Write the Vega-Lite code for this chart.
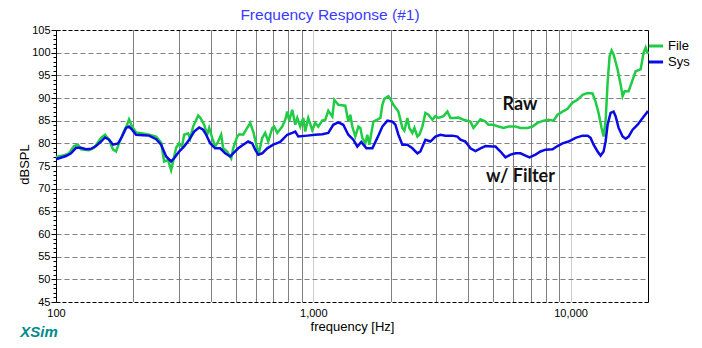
{
  "$schema": "https://vega.github.io/schema/vega-lite/v6.json",
  "width": 592,
  "height": 272,
  "autosize": "none",
  "padding": {"left": 56, "top": 30, "right": 54, "bottom": 46},
  "background": "white",
  "title": {"text": "Frequency Response (#1)", "font": "Liberation Sans", "fontSize": 15.5, "fontWeight": "normal", "color": "#3a3aff", "dx": -22, "dy": 6, "offset": 7},
  "config": {
    "view": {"stroke": null},
    "axis": {"labelFont": "Liberation Sans", "titleFont": "Liberation Sans", "labelColor": "#000", "titleColor": "#000", "titleFontWeight": "normal", "labelFontSize": 11, "titleFontSize": 13}
  },
  "datasets": {
    "curves": [
      {"f":100,"db":77.0,"s":"File"},{"f":106.5,"db":77.3,"s":"File"},{"f":112.4,"db":77.8,"s":"File"},{"f":117.5,"db":79.4,"s":"File"},{"f":121.8,"db":79.7,"s":"File"},{"f":125.1,"db":78.7,"s":"File"},{"f":134.4,"db":78.5,"s":"File"},{"f":140.5,"db":79.0,"s":"File"},{"f":149.6,"db":81.2,"s":"File"},{"f":155.1,"db":81.9,"s":"File"},{"f":160.8,"db":80.8,"s":"File"},{"f":166.6,"db":78.6,"s":"File"},{"f":171.2,"db":78.2,"s":"File"},{"f":175.8,"db":80.0,"s":"File"},{"f":182.3,"db":82.2,"s":"File"},{"f":188.9,"db":84.1,"s":"File"},{"f":192.3,"db":85.3,"s":"File"},{"f":197.6,"db":83.7,"s":"File"},{"f":204.8,"db":82.4,"s":"File"},{"f":218,"db":82.2,"s":"File"},{"f":230,"db":81.9,"s":"File"},{"f":245,"db":81.5,"s":"File"},{"f":256.2,"db":80.2,"s":"File"},{"f":263.2,"db":76.0,"s":"File"},{"f":272.8,"db":76.3,"s":"File"},{"f":280.2,"db":74.1,"s":"File"},{"f":285.3,"db":76.0,"s":"File"},{"f":293,"db":79.0,"s":"File"},{"f":301,"db":80.0,"s":"File"},{"f":309,"db":79.3,"s":"File"},{"f":314.8,"db":81.9,"s":"File"},{"f":326.3,"db":82.2,"s":"File"},{"f":332.2,"db":81.0,"s":"File"},{"f":341.2,"db":83.7,"s":"File"},{"f":356.9,"db":86.1,"s":"File"},{"f":363.3,"db":85.7,"s":"File"},{"f":376.6,"db":84.1,"s":"File"},{"f":386.9,"db":81.9,"s":"File"},{"f":393.9,"db":83.4,"s":"File"},{"f":404.6,"db":81.2,"s":"File"},{"f":415.6,"db":79.3,"s":"File"},{"f":426.9,"db":80.4,"s":"File"},{"f":438.6,"db":81.9,"s":"File"},{"f":446.5,"db":78.9,"s":"File"},{"f":462.8,"db":78.2,"s":"File"},{"f":479.7,"db":76.7,"s":"File"},{"f":488.4,"db":78.9,"s":"File"},{"f":506.2,"db":81.5,"s":"File"},{"f":515.3,"db":82.0,"s":"File"},{"f":534.1,"db":81.9,"s":"File"},{"f":553.6,"db":83.4,"s":"File"},{"f":568.7,"db":84.5,"s":"File"},{"f":584.2,"db":82.6,"s":"File"},{"f":605.5,"db":78.9,"s":"File"},{"f":616.5,"db":78.2,"s":"File"},{"f":633.2,"db":81.2,"s":"File"},{"f":650.5,"db":82.3,"s":"File"},{"f":668.2,"db":80.4,"s":"File"},{"f":692.6,"db":83.4,"s":"File"},{"f":705,"db":83.7,"s":"File"},{"f":724.3,"db":82.3,"s":"File"},{"f":757.5,"db":83.7,"s":"File"},{"f":778.1,"db":85.2,"s":"File"},{"f":792.2,"db":87.0,"s":"File"},{"f":806.5,"db":85.0,"s":"File"},{"f":828.5,"db":87.4,"s":"File"},{"f":851.1,"db":84.1,"s":"File"},{"f":866.5,"db":85.6,"s":"File"},{"f":890.1,"db":83.7,"s":"File"},{"f":914.5,"db":85.6,"s":"File"},{"f":930.8,"db":82.6,"s":"File"},{"f":955.9,"db":85.6,"s":"File"},{"f":991,"db":82.9,"s":"File"},{"f":1018,"db":84.5,"s":"File"},{"f":1046,"db":83.7,"s":"File"},{"f":1084,"db":85.0,"s":"File"},{"f":1114,"db":85.2,"s":"File"},{"f":1144,"db":87.2,"s":"File"},{"f":1186,"db":85.9,"s":"File"},{"f":1207,"db":89.6,"s":"File"},{"f":1251,"db":88.5,"s":"File"},{"f":1332,"db":88.3,"s":"File"},{"f":1368,"db":84.8,"s":"File"},{"f":1393,"db":86.3,"s":"File"},{"f":1418,"db":83.7,"s":"File"},{"f":1457,"db":81.5,"s":"File"},{"f":1497,"db":83.7,"s":"File"},{"f":1524,"db":83.4,"s":"File"},{"f":1551,"db":81.2,"s":"File"},{"f":1593,"db":80.0,"s":"File"},{"f":1622,"db":81.9,"s":"File"},{"f":1652,"db":79.7,"s":"File"},{"f":1682,"db":82.3,"s":"File"},{"f":1712,"db":84.8,"s":"File"},{"f":1774,"db":85.2,"s":"File"},{"f":1823,"db":85.6,"s":"File"},{"f":1856,"db":88.5,"s":"File"},{"f":1889,"db":89.8,"s":"File"},{"f":1958,"db":90.4,"s":"File"},{"f":1994,"db":89.8,"s":"File"},{"f":2048,"db":88.5,"s":"File"},{"f":2142,"db":87.0,"s":"File"},{"f":2220,"db":83.4,"s":"File"},{"f":2260,"db":82.8,"s":"File"},{"f":2321,"db":85.6,"s":"File"},{"f":2363,"db":83.4,"s":"File"},{"f":2428,"db":82.3,"s":"File"},{"f":2472,"db":83.4,"s":"File"},{"f":2539,"db":81.5,"s":"File"},{"f":2585,"db":81.9,"s":"File"},{"f":2655,"db":83.7,"s":"File"},{"f":2728,"db":86.7,"s":"File"},{"f":2802,"db":86.3,"s":"File"},{"f":2905,"db":85.2,"s":"File"},{"f":2984,"db":86.0,"s":"File"},{"f":3065,"db":85.6,"s":"File"},{"f":3205,"db":86.0,"s":"File"},{"f":3322,"db":87.0,"s":"File"},{"f":3412,"db":85.6,"s":"File"},{"f":3505,"db":85.6,"s":"File"},{"f":3666,"db":85.7,"s":"File"},{"f":3834,"db":85.2,"s":"File"},{"f":4082,"db":84.8,"s":"File"},{"f":4193,"db":83.4,"s":"File"},{"f":4346,"db":84.5,"s":"File"},{"f":4465,"db":85.3,"s":"File"},{"f":4669,"db":84.8,"s":"File"},{"f":4797,"db":84.1,"s":"File"},{"f":5016,"db":84.1,"s":"File"},{"f":5247,"db":83.7,"s":"File"},{"f":5487,"db":83.4,"s":"File"},{"f":5738,"db":83.7,"s":"File"},{"f":6110,"db":83.7,"s":"File"},{"f":6390,"db":83.4,"s":"File"},{"f":6803,"db":83.4,"s":"File"},{"f":7114,"db":83.7,"s":"File"},{"f":7440,"db":84.5,"s":"File"},{"f":7852,"db":85.0,"s":"File"},{"f":8211,"db":85.2,"s":"File"},{"f":8588,"db":85.0,"s":"File"},{"f":8900,"db":86.3,"s":"File"},{"f":9308,"db":87.0,"s":"File"},{"f":9735,"db":87.6,"s":"File"},{"f":10181,"db":89.0,"s":"File"},{"f":10648,"db":89.6,"s":"File"},{"f":11135,"db":90.7,"s":"File"},{"f":11647,"db":91.1,"s":"File"},{"f":12179,"db":91.0,"s":"File"},{"f":12509,"db":89.2,"s":"File"},{"f":12850,"db":86.7,"s":"File"},{"f":13200,"db":83.4,"s":"File"},{"f":13439,"db":81.5,"s":"File"},{"f":13682,"db":84.8,"s":"File"},{"f":13930,"db":93.3,"s":"File"},{"f":14182,"db":99.2,"s":"File"},{"f":14438,"db":100.5,"s":"File"},{"f":14699,"db":99.6,"s":"File"},{"f":15236,"db":96.3,"s":"File"},{"f":15651,"db":93.0,"s":"File"},{"f":15934,"db":90.4,"s":"File"},{"f":16223,"db":91.5,"s":"File"},{"f":16814,"db":91.5,"s":"File"},{"f":17427,"db":94.0,"s":"File"},{"f":17903,"db":95.9,"s":"File"},{"f":18723,"db":96.3,"s":"File"},{"f":19233,"db":100.0,"s":"File"},{"f":19583,"db":101.1,"s":"File"},{"f":19937,"db":99.8,"s":"File"},{"f":20000,"db":100.3,"s":"File"},
      {"f":100,"db":76.5,"s":"Sys"},{"f":109.4,"db":77.2,"s":"Sys"},{"f":114.4,"db":77.8,"s":"Sys"},{"f":119.6,"db":79.0,"s":"Sys"},{"f":125.1,"db":79.0,"s":"Sys"},{"f":130.8,"db":78.7,"s":"Sys"},{"f":136.8,"db":78.8,"s":"Sys"},{"f":143.1,"db":79.4,"s":"Sys"},{"f":149.6,"db":80.4,"s":"Sys"},{"f":155.1,"db":81.3,"s":"Sys"},{"f":160.8,"db":80.8,"s":"Sys"},{"f":166.6,"db":79.7,"s":"Sys"},{"f":174.3,"db":80.0,"s":"Sys"},{"f":180.6,"db":81.5,"s":"Sys"},{"f":187.2,"db":83.4,"s":"Sys"},{"f":192.3,"db":83.7,"s":"Sys"},{"f":197.6,"db":83.0,"s":"Sys"},{"f":204.8,"db":81.9,"s":"Sys"},{"f":218,"db":81.8,"s":"Sys"},{"f":230,"db":81.7,"s":"Sys"},{"f":245,"db":80.9,"s":"Sys"},{"f":256.2,"db":79.7,"s":"Sys"},{"f":268,"db":77.1,"s":"Sys"},{"f":280.2,"db":76.0,"s":"Sys"},{"f":287.9,"db":76.7,"s":"Sys"},{"f":301,"db":78.2,"s":"Sys"},{"f":314.8,"db":79.3,"s":"Sys"},{"f":329.3,"db":80.8,"s":"Sys"},{"f":344.3,"db":82.6,"s":"Sys"},{"f":360.1,"db":83.5,"s":"Sys"},{"f":373.2,"db":83.0,"s":"Sys"},{"f":383.4,"db":81.9,"s":"Sys"},{"f":397.4,"db":80.0,"s":"Sys"},{"f":415.6,"db":78.9,"s":"Sys"},{"f":434.6,"db":78.9,"s":"Sys"},{"f":454.6,"db":77.8,"s":"Sys"},{"f":475.4,"db":77.1,"s":"Sys"},{"f":488.4,"db":77.8,"s":"Sys"},{"f":510.7,"db":78.9,"s":"Sys"},{"f":534.1,"db":79.7,"s":"Sys"},{"f":558.6,"db":80.4,"s":"Sys"},{"f":579,"db":80.0,"s":"Sys"},{"f":594.8,"db":78.6,"s":"Sys"},{"f":611,"db":77.5,"s":"Sys"},{"f":633.2,"db":77.8,"s":"Sys"},{"f":662.2,"db":78.9,"s":"Sys"},{"f":698.8,"db":79.7,"s":"Sys"},{"f":744,"db":80.3,"s":"Sys"},{"f":792.2,"db":81.9,"s":"Sys"},{"f":828.5,"db":82.3,"s":"Sys"},{"f":851.1,"db":82.6,"s":"Sys"},{"f":874.3,"db":81.5,"s":"Sys"},{"f":947.7,"db":81.7,"s":"Sys"},{"f":1018,"db":81.9,"s":"Sys"},{"f":1084,"db":82.0,"s":"Sys"},{"f":1144,"db":82.3,"s":"Sys"},{"f":1196,"db":84.1,"s":"Sys"},{"f":1251,"db":84.6,"s":"Sys"},{"f":1308,"db":84.1,"s":"Sys"},{"f":1368,"db":81.9,"s":"Sys"},{"f":1431,"db":80.8,"s":"Sys"},{"f":1483,"db":79.3,"s":"Sys"},{"f":1537,"db":80.3,"s":"Sys"},{"f":1608,"db":78.9,"s":"Sys"},{"f":1697,"db":78.9,"s":"Sys"},{"f":1774,"db":81.2,"s":"Sys"},{"f":1856,"db":83.7,"s":"Sys"},{"f":1941,"db":85.0,"s":"Sys"},{"f":2030,"db":84.8,"s":"Sys"},{"f":2085,"db":84.1,"s":"Sys"},{"f":2142,"db":81.9,"s":"Sys"},{"f":2220,"db":79.7,"s":"Sys"},{"f":2321,"db":79.7,"s":"Sys"},{"f":2428,"db":78.9,"s":"Sys"},{"f":2539,"db":77.8,"s":"Sys"},{"f":2608,"db":78.2,"s":"Sys"},{"f":2728,"db":80.8,"s":"Sys"},{"f":2853,"db":80.4,"s":"Sys"},{"f":2905,"db":80.8,"s":"Sys"},{"f":2984,"db":81.5,"s":"Sys"},{"f":3120,"db":81.9,"s":"Sys"},{"f":3263,"db":81.7,"s":"Sys"},{"f":3474,"db":81.7,"s":"Sys"},{"f":3633,"db":81.5,"s":"Sys"},{"f":3732,"db":80.8,"s":"Sys"},{"f":3903,"db":80.4,"s":"Sys"},{"f":4082,"db":78.9,"s":"Sys"},{"f":4269,"db":78.3,"s":"Sys"},{"f":4465,"db":78.9,"s":"Sys"},{"f":4669,"db":79.4,"s":"Sys"},{"f":4972,"db":79.3,"s":"Sys"},{"f":5107,"db":79.3,"s":"Sys"},{"f":5341,"db":78.2,"s":"Sys"},{"f":5586,"db":76.9,"s":"Sys"},{"f":5842,"db":77.5,"s":"Sys"},{"f":6110,"db":77.8,"s":"Sys"},{"f":6390,"db":77.8,"s":"Sys"},{"f":6682,"db":77.3,"s":"Sys"},{"f":6926,"db":76.9,"s":"Sys"},{"f":7308,"db":77.5,"s":"Sys"},{"f":7643,"db":78.2,"s":"Sys"},{"f":7993,"db":78.6,"s":"Sys"},{"f":8511,"db":78.7,"s":"Sys"},{"f":8900,"db":79.4,"s":"Sys"},{"f":9308,"db":80.0,"s":"Sys"},{"f":9822,"db":80.4,"s":"Sys"},{"f":10458,"db":81.2,"s":"Sys"},{"f":11135,"db":81.7,"s":"Sys"},{"f":11647,"db":81.7,"s":"Sys"},{"f":11963,"db":81.2,"s":"Sys"},{"f":12289,"db":79.7,"s":"Sys"},{"f":12735,"db":78.2,"s":"Sys"},{"f":13082,"db":77.3,"s":"Sys"},{"f":13439,"db":78.2,"s":"Sys"},{"f":13682,"db":80.4,"s":"Sys"},{"f":13930,"db":84.1,"s":"Sys"},{"f":14309,"db":86.7,"s":"Sys"},{"f":14699,"db":87.0,"s":"Sys"},{"f":14965,"db":86.0,"s":"Sys"},{"f":15373,"db":83.4,"s":"Sys"},{"f":15934,"db":81.5,"s":"Sys"},{"f":16369,"db":81.0,"s":"Sys"},{"f":16814,"db":81.5,"s":"Sys"},{"f":17427,"db":83.0,"s":"Sys"},{"f":18226,"db":84.1,"s":"Sys"},{"f":19063,"db":85.6,"s":"Sys"},{"f":19937,"db":87.0,"s":"Sys"},{"f":20000,"db":87.2,"s":"Sys"}
    ],
    "notes": [
      {"f": 6363, "db": 88.5, "t": "Raw"},
      {"f": 6390, "db": 72.5, "t": "w/ Filter"}
    ],
    "brand": [
      {"f": 85.9, "db": 38.3, "t": "XSim"}
    ]
  },
  "layer": [
    {
      "data": {"name": "curves"},
      "mark": {"type": "line", "strokeWidth": 2.5, "interpolate": "linear"},
      "encoding": {
        "x": {"field": "f", "type": "quantitative", "scale": {"type": "log", "domain": [100, 20000], "nice": false},
          "axis": {"title": "frequency [Hz]", "values": [100,200,300,400,500,600,700,800,900,1000,2000,3000,4000,5000,6000,7000,8000,9000,10000],
            "labelExpr": "datum.value == 100 || datum.value == 1000 || datum.value == 10000 ? format(datum.value, ',') : ''",
            "labelFlush": false, "labelOverlap": false, "ticks": false, "labelPadding": 5,
            "grid": true, "gridDash": [1, 1], "gridColor": {"condition": {"test": "datum.value == 1000 || datum.value == 10000", "value": "#9a9a9a"}, "value": "#000000"},
            "gridOpacity": {"condition": {"test": "datum.value == 100", "value": 0}, "value": 1},
            "domainColor": "#000", "domainDash": [4, 2], "titleY": 28, "titleBaseline": "alphabetic"}},
        "y": {"field": "db", "type": "quantitative", "scale": {"domain": [45, 105], "nice": false, "zero": false},
          "axis": {"title": "dBSPL", "values": [45,46,47,48,49,50,51,52,53,54,55,56,57,58,59,60,61,62,63,64,65,66,67,68,69,70,71,72,73,74,75,76,77,78,79,80,81,82,83,84,85,86,87,88,89,90,91,92,93,94,95,96,97,98,99,100,101,102,103,104,105],
            "labelExpr": "datum.value % 5 == 0 ? datum.label : ''", "labelOverlap": false, "labelFlush": false,
            "tickSize": {"condition": {"test": "datum.value % 5 == 0", "value": 5}, "value": 3}, "tickColor": "#000", "labelPadding": 1,
            "grid": true, "gridDash": [5, 3], "gridColor": "#808080",
            "gridOpacity": {"condition": {"test": "datum.value % 5 == 0 && datum.value > 45 && datum.value < 105", "value": 1}, "value": 0},
            "domainColor": "#000", "titleX": -28, "titleY": 134, "titleBaseline": "alphabetic"}},
        "color": {"field": "s", "type": "nominal", "scale": {"domain": ["File", "Sys"], "range": ["#1fcc44", "#0a0ae6"]},
          "legend": {"orient": "none", "legendX": 591, "legendY": 7, "title": null, "symbolType": "stroke", "symbolStrokeWidth": 3, "symbolSize": 200, "labelFont": "Liberation Sans", "labelFontSize": 13, "labelColor": "#000", "rowPadding": -2, "labelOffset": 3}}
      }
    },
    {
      "data": {"name": "notes"},
      "mark": {"type": "text", "font": "Lato", "fontWeight": "bold", "fontSize": 18, "color": "#111111"},
      "encoding": {
        "x": {"field": "f", "type": "quantitative", "scale": {"type": "log", "domain": [100, 20000], "nice": false},
          "axis": {"orient": "top", "title": null, "labels": false, "ticks": false, "grid": false, "domainColor": "#000", "domainDash": [4, 2]}},
        "y": {"field": "db", "type": "quantitative", "scale": {"domain": [45, 105], "nice": false, "zero": false},
          "axis": {"orient": "right", "title": null, "labels": false, "ticks": false, "grid": false, "domainColor": "#000"}},
        "text": {"field": "t", "type": "nominal"}
      }
    },
    {
      "data": {"name": "brand"},
      "mark": {"type": "text", "font": "Liberation Sans", "fontWeight": "bold", "fontStyle": "italic", "fontSize": 15, "color": "#008b8b"},
      "encoding": {
        "x": {"field": "f", "type": "quantitative", "scale": {"type": "log", "domain": [100, 20000], "nice": false}, "axis": null},
        "y": {"field": "db", "type": "quantitative", "scale": {"domain": [45, 105], "nice": false, "zero": false}, "axis": null},
        "text": {"field": "t", "type": "nominal"}
      }
    }
  ],
  "resolve": {"axis": {"x": "independent", "y": "independent"}}
}
